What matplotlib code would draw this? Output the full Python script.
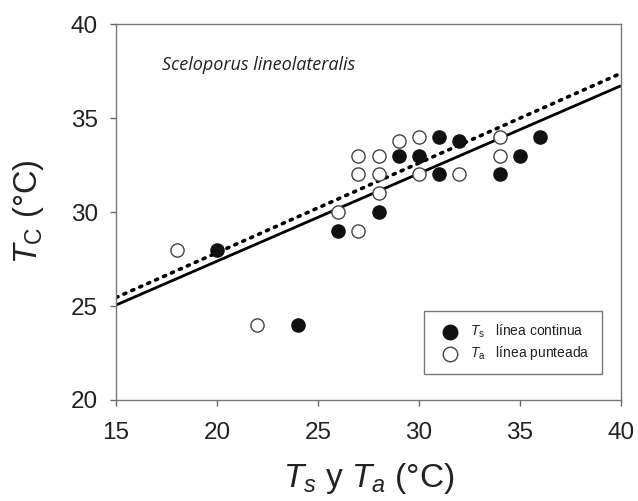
import matplotlib
matplotlib.use("Agg")
import matplotlib.pyplot as plt
import numpy as np

plt.rcParams['font.family'] = ['Liberation Sans', 'DejaVu Sans']
plt.rcParams['mathtext.fontset'] = 'custom'
plt.rcParams['mathtext.rm'] = 'Liberation Sans'
plt.rcParams['mathtext.it'] = 'Liberation Sans:italic'
plt.rcParams['mathtext.bf'] = 'Liberation Sans:bold'

# Data
ts_x = [20, 24, 26, 28, 29, 30, 31, 31, 32, 34, 35, 36]
ts_y = [28, 24, 29, 30, 33, 33, 34, 32, 33.8, 32, 33, 34]
ta_x = [18, 22, 26, 27, 27, 27, 28, 28, 28, 29, 30, 30, 32, 34, 34]
ta_y = [28, 24, 30, 29, 32, 33, 31, 32, 33, 33.8, 34, 32, 32, 34, 33]

solid_x = [15, 40]
solid_y = [25.05, 36.72]
dotted_x = [15, 40]
dotted_y = [25.45, 37.38]

xticks = [15, 20, 25, 30, 35, 40]
yticks = [20, 25, 30, 35, 40]

fig = plt.figure(figsize=(6.38, 5.01), dpi=100)
ax = fig.add_axes([0.1818, 0.2016, 0.7916, 0.7504])

ax.plot(solid_x, solid_y, color='black', lw=2.0, solid_capstyle='butt', zorder=2)
ax.plot(dotted_x, dotted_y, color='black', lw=2.6, linestyle=(0, (0.6, 1.8)),
        dash_capstyle='round', zorder=2)

ax.scatter(ts_x, ts_y, s=90, facecolor='#111111', edgecolor='#111111', lw=1.0,
           zorder=3, label=r"$T_{\rm s}$   línea continua")
ax.scatter(ta_x, ta_y, s=90, facecolor='white', edgecolor='#444444', lw=1.0,
           zorder=3, label=r"$T_{\rm a}$   línea punteada")

ax.set_xlim(15, 40)
ax.set_ylim(20, 40)
ax.set_xticks(xticks)
ax.set_yticks(yticks)
ax.tick_params(axis='both', direction='out', length=4, width=1, colors='#666666',
               labelsize=17.5, labelcolor='#222222')
ax.tick_params(axis='x', pad=12)
ax.tick_params(axis='y', pad=9)
for sp in ax.spines.values():
    sp.set_color('#777777')
    sp.set_linewidth(1.0)

ax.set_xlabel(r"$T_{s}$ y $T_{a}$ (°C)", fontsize=24, color='#222222', labelpad=12)
ax.set_ylabel(r"$T_{\rm C}$ (°C)", fontsize=23.5, color='#222222', labelpad=18)

ax.text(0.091, 0.878, "Sceloporus lineolateralis", transform=ax.transAxes,
        fontsize=13, fontstyle='italic', family='Open Sans', color='#222222',
        va='baseline')

leg = ax.legend(loc='lower right', bbox_to_anchor=(0.962, 0.069), fontsize=10,
                frameon=True, fancybox=False, edgecolor='#555555',
                handletextpad=0.5, borderpad=0.85, labelspacing=0.3,
                markerscale=1.1, borderaxespad=0)
leg.get_frame().set_linewidth(1.0)
for t in leg.get_texts():
    t.set_color('#222222')

fig.savefig("out.png", dpi=100)
